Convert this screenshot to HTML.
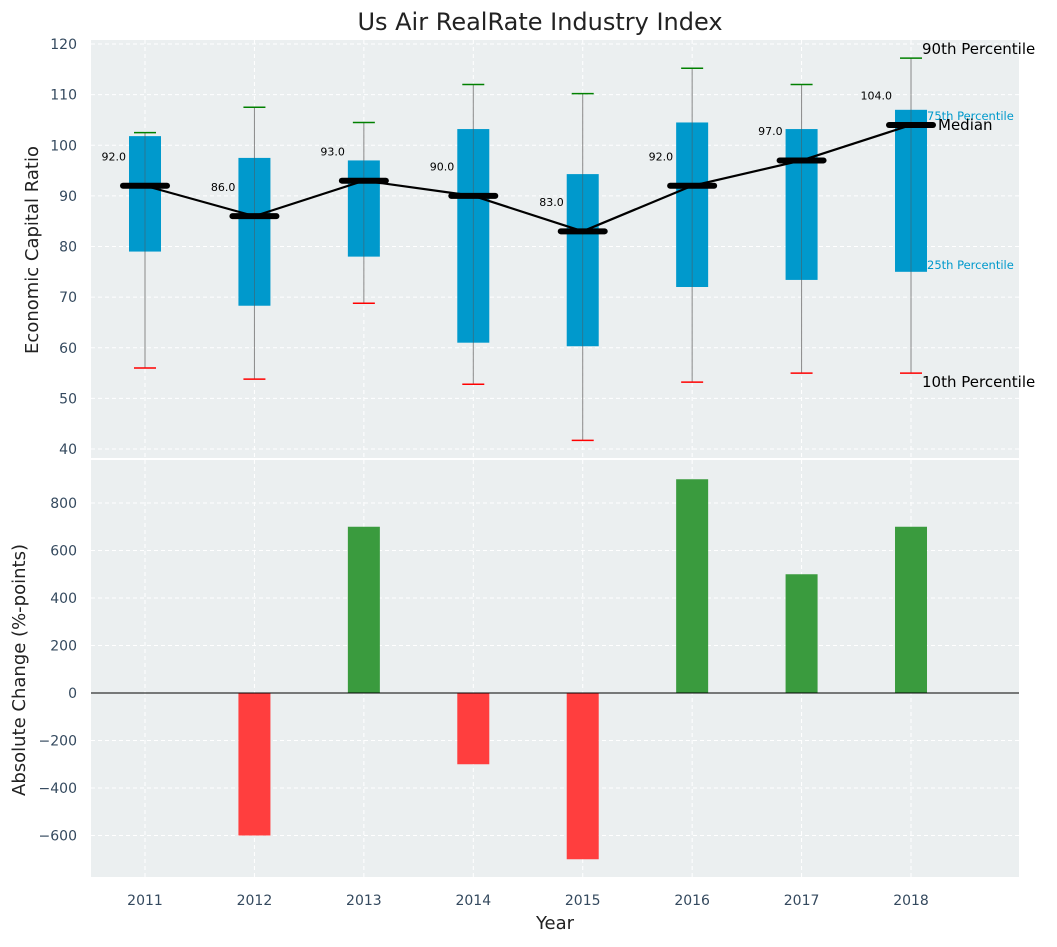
<!DOCTYPE html>
<html><head><meta charset="utf-8"><style>
body{margin:0;background:#fff;font-family:"Liberation Sans","DejaVu Sans",sans-serif;}
svg text{font-family:"DejaVu Sans","Liberation Sans",sans-serif;}
</style></head><body>
<svg id="c" width="1057" height="942"></svg>
<script>
const years=[2011,2012,2013,2014,2015,2016,2017,2018];
const q1=[79,68.3,78,61,60.3,72,73.4,75];
const q3=[101.8,97.5,97,103.2,94.3,104.5,103.2,107];
const med=[92,86,93,90,83,92,97,104];
const p10=[56,53.8,68.8,52.8,41.7,53.2,55,55];
const p90=[102.5,107.5,104.5,112,110.2,115.2,112,117.2];
const changes=[0,-600,700,-300,-700,900,500,700];
const topTicks=[40,50,60,70,80,90,100,110,120];
const botTicks=[-600,-400,-200,0,200,400,600,800];

const NS="http://www.w3.org/2000/svg";
const svg=document.getElementById('c');
function mk(t,a,p){const e=document.createElementNS(NS,t);for(const k in a)e.setAttribute(k,a[k]);(p||svg).appendChild(e);return e;}
const X=i=>145+i*109.43;
const YT=v=>449-(v-40)*5.0625;
const YB=v=>693-v*0.2375;
const L=91,R=1019;

// panels
let bgT=mk('rect',{x:L,y:40,width:R-L,height:418,fill:'#ebeff0'});


let bgB=mk('rect',{x:L,y:460,width:R-L,height:417,fill:'#ebeff0'});



// grids
years.forEach((y,i)=>{
  mk('line',{x1:X(i),x2:X(i),y1:40,y2:458,stroke:'#fff','stroke-dasharray':'4,3'});
  mk('line',{x1:X(i),x2:X(i),y1:460,y2:877,stroke:'#fff','stroke-dasharray':'4,3'});
  let t=mk('text',{x:X(i),y:905,'font-size':14,fill:'#34495e','text-anchor':'middle'});t.textContent=y;
  
  
});
topTicks.forEach(v=>{
  mk('line',{x1:L,x2:R,y1:YT(v),y2:YT(v),stroke:'#fff','stroke-dasharray':'4,3'});
  let t=mk('text',{x:77,y:YT(v)+5,'font-size':14,fill:'#34495e','text-anchor':'end'});t.textContent=v;
  
  
});
botTicks.forEach(v=>{
  mk('line',{x1:L,x2:R,y1:YB(v),y2:YB(v),stroke:'#fff','stroke-dasharray':'4,3'});
  let t=mk('text',{x:77,y:YB(v)+5,'font-size':14,fill:'#34495e','text-anchor':'end'});t.textContent=(v<0?'\u2212'+(-v):v);
  
  
});

// boxes
years.forEach((y,i)=>{
  const x=X(i);
  mk('line',{x1:x,x2:x,y1:YT(p10[i]),y2:YT(p90[i]),stroke:'#888','stroke-width':1});
  let b=mk('rect',{x:x-16,y:YT(q3[i]),width:32,height:YT(q1[i])-YT(q3[i]),fill:'#0099cc'});
  
  
  mk('line',{x1:x,x2:x,y1:YT(q3[i]),y2:YT(q1[i]),stroke:'#555','stroke-width':0.8,opacity:0.6});
  mk('line',{x1:x-11,x2:x+11,y1:YT(p90[i]),y2:YT(p90[i]),stroke:'green','stroke-width':1.5});
  mk('line',{x1:x-11,x2:x+11,y1:YT(p10[i]),y2:YT(p10[i]),stroke:'red','stroke-width':1.5});
  let m=mk('line',{x1:x-22,x2:x+22,y1:YT(med[i]),y2:YT(med[i]),stroke:'#000','stroke-width':6,'stroke-linecap':'round'});
  
  
  let t=mk('text',{x:x-19,y:YT(med[i]+5.8)+4,'font-size':11,fill:'#000','text-anchor':'end'});t.textContent=med[i].toFixed(1);
  
  
});
let pl=mk('polyline',{points:years.map((y,i)=>X(i)+','+YT(med[i])).join(' '),fill:'none',stroke:'#000','stroke-width':2.2});



// annotations
const ann=[['90th Percentile',922,54,15,'#000'],['75th Percentile',927,120,11.5,'#0099cc'],['Median',938,130,15,'#000'],['25th Percentile',927,269,11.5,'#0099cc'],['10th Percentile',922,387,15,'#000']];
ann.forEach(a=>{let t=mk('text',{x:a[1],y:a[2],'font-size':a[3],fill:a[4]});t.textContent=a[0];
  
  });

// bars
changes.forEach((v,i)=>{
  if(v===0)return;
  const y0=YB(0),y1=YB(v);
  let b=mk('rect',{x:X(i)-16,y:Math.min(y0,y1),width:32,height:Math.abs(y1-y0),fill:v>0?'#3a9b3e':'#ff3e3e'});
  
  
});
mk('line',{x1:L,x2:R,y1:YB(0),y2:YB(0),stroke:'#000','stroke-width':1});

// titles
let tt=mk('text',{x:540,y:30,'font-size':24,fill:'#222','text-anchor':'middle'});tt.textContent='Us Air RealRate Industry Index';


let xl=mk('text',{x:555,y:929,'font-size':18,fill:'#222','text-anchor':'middle'});xl.textContent='Year';


let y1=mk('text',{x:38,y:250,'font-size':18,fill:'#222','text-anchor':'middle',transform:'rotate(-90 38 250)'});y1.textContent='Economic Capital Ratio';


let y2=mk('text',{x:25,y:670,'font-size':18,fill:'#222','text-anchor':'middle',transform:'rotate(-90 25 670)'});y2.textContent='Absolute Change (%-points)';


</script>
</body></html>
